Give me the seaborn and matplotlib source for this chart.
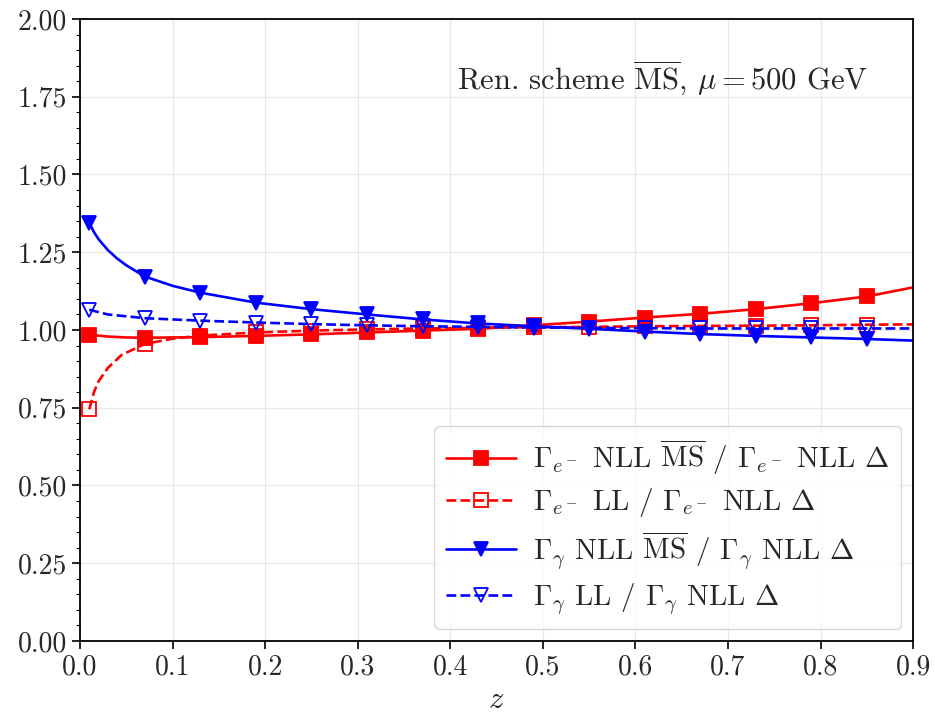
import matplotlib
matplotlib.use("Agg")
import matplotlib.pyplot as plt
import numpy as np
import seaborn as sns
from matplotlib.ticker import MultipleLocator

# values
marker_z = [0.01, 0.07, 0.13, 0.19, 0.25, 0.31, 0.37, 0.43, 0.49, 0.55, 0.61, 0.67, 0.73, 0.79, 0.85]

z_e_nll = [0.01, 0.03, 0.05, 0.07, 0.13, 0.19, 0.25, 0.31, 0.37, 0.43, 0.49, 0.55, 0.61, 0.67, 0.73, 0.79, 0.85, 0.90]
e_nll = [0.985, 0.979, 0.976, 0.975, 0.977, 0.981, 0.986, 0.992, 0.998, 1.004, 1.015, 1.027, 1.040, 1.052, 1.067, 1.086, 1.108, 1.137]

z_e_ll = [0.01, 0.015, 0.02, 0.03, 0.045, 0.07, 0.10, 0.13, 0.19, 0.25, 0.31, 0.37, 0.43, 0.49, 0.55, 0.61, 0.67, 0.73, 0.79, 0.85, 0.90]
e_ll = [0.745, 0.800, 0.835, 0.878, 0.920, 0.955, 0.972, 0.982, 0.992, 0.998, 1.002, 1.005, 1.007, 1.009, 1.010, 1.012, 1.013, 1.014, 1.015, 1.017, 1.018]

z_g_nll = [0.01, 0.015, 0.02, 0.03, 0.04, 0.05, 0.07, 0.10, 0.13, 0.19, 0.25, 0.31, 0.37, 0.43, 0.49, 0.55, 0.61, 0.67, 0.73, 0.79, 0.85, 0.90]
g_nll = [1.345, 1.315, 1.292, 1.257, 1.230, 1.208, 1.172, 1.142, 1.120, 1.088, 1.067, 1.050, 1.034, 1.021, 1.012, 1.004, 0.995, 0.987, 0.981, 0.976, 0.971, 0.966]

z_g_ll = [0.01, 0.03, 0.07, 0.13, 0.19, 0.25, 0.31, 0.37, 0.43, 0.49, 0.55, 0.61, 0.67, 0.73, 0.79, 0.85, 0.90]
g_ll = [1.065, 1.050, 1.038, 1.030, 1.024, 1.019, 1.015, 1.012, 1.010, 1.008, 1.007, 1.006, 1.005, 1.005, 1.005, 1.005, 1.005]

labels = [
    r"$\Gamma_{e^-}$ NLL $\overline{\rm MS}$ / $\Gamma_{e^-}$ NLL $\Delta$",
    r"$\Gamma_{e^-}$ LL / $\Gamma_{e^-}$ NLL $\Delta$",
    r"$\Gamma_{\gamma}$ NLL $\overline{\rm MS}$ / $\Gamma_{\gamma}$ NLL $\Delta$",
    r"$\Gamma_{\gamma}$ LL / $\Gamma_{\gamma}$ NLL $\Delta$",
]

sns.set_theme(style="ticks")
plt.rcParams["font.family"] = "serif"
plt.rcParams["font.serif"] = ["cmr10", "DejaVu Serif"]
plt.rcParams["mathtext.fontset"] = "cm"
plt.rcParams["axes.formatter.use_mathtext"] = True
plt.rcParams["axes.unicode_minus"] = False

fig = plt.figure(figsize=(9.35, 7.17), dpi=100)
ax = fig.add_axes([0.0856, 0.106, 0.891, 0.8675])

series = [
    (z_e_nll, e_nll, "red", "-", "s", "red"),
    (z_e_ll, e_ll, "red", "--", "s", "none"),
    (z_g_nll, g_nll, "blue", "-", "v", "blue"),
    (z_g_ll, g_ll, "blue", "--", "v", "none"),
]

for (zz, vals, col, ls, mk, mfc), lab in zip(series, labels):
    mask = list(np.isin(np.round(zz, 3), marker_z))
    sns.lineplot(x=zz, y=vals, ax=ax, color=col, linestyle=ls, linewidth=1.9,
                 marker=mk, markevery=mask, markersize=9.5, markerfacecolor=mfc,
                 markeredgecolor=col, markeredgewidth=1.3, label=lab)

ax.set_xlim(0, 0.9)
ax.set_ylim(0, 2)
ax.xaxis.set_major_locator(MultipleLocator(0.1))
ax.yaxis.set_major_locator(MultipleLocator(0.25))
ax.yaxis.set_minor_locator(MultipleLocator(0.05))
ax.yaxis.set_major_formatter(matplotlib.ticker.FormatStrFormatter("%.2f"))
ax.xaxis.set_major_formatter(matplotlib.ticker.FormatStrFormatter("%.1f"))
ax.tick_params(axis="both", which="major", labelsize=20, length=6, width=1.2, color="black")
ax.tick_params(axis="y", which="minor", length=3, width=0.8, color="black")
ax.grid(True, which="major", color="#e8e8e8", linewidth=0.9)
for sp in ax.spines.values():
    sp.set_color("black")
    sp.set_linewidth(1.3)

ax.set_xlabel(r"$z$", fontsize=22)
ax.set_ylabel("")
ax.text(0.946, 0.905, r"Ren. scheme $\overline{\rm MS}$, $\mu = 500$ GeV",
        transform=ax.transAxes, ha="right", va="center", fontsize=22)

ax.legend(loc="lower right", fontsize=21, frameon=True, borderaxespad=0.4,
          labelspacing=0.32, handlelength=2.4, handletextpad=0.6)

fig.savefig("out.png", dpi=100)
